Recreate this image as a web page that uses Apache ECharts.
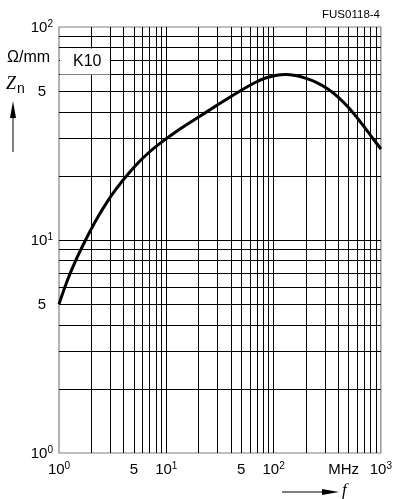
<!DOCTYPE html>
<html><head><meta charset="utf-8">
<script src="https://cdn.jsdelivr.net/npm/echarts@6/dist/echarts.min.js"></script>
<style>html,body{margin:0;padding:0;background:#fff}#c{width:395px;height:499px}</style>
</head><body><div id="c"></div>
<script>
// Curve K10: impedance per length (Ω/mm) vs frequency (MHz)
const freqMHz   = [1, 1.186, 1.406, 1.633, 1.937, 2.346, 2.843, 3.372, 4.084, 5.389, 6.96, 8.614, 11.86, 14.68, 20.21, 30.95, 49.48, 68.13, 84.33, 106.6, 129.2, 159.8, 197.8, 250.1, 323.0, 399.6, 494.8, 652.9, 807.9, 1000];
const impedance = [5.0, 6.38, 7.85, 9.22, 10.94, 13.03, 15.23, 17.22, 19.51, 22.85, 25.89, 28.28, 31.79, 34.18, 37.92, 43.46, 50.33, 55.04, 57.63, 59.37, 59.79, 59.14, 57.50, 54.95, 51.05, 46.88, 42.06, 35.54, 30.85, 26.74];

// tick labels
const xTickValues = [1, 5, 10, 50, 100, 450, 1000];
const xTickLabels = ['10^0', '5', '10^1', '5', '10^2', 'MHz', '10^3'];
const yTickValues = [1, 5, 10, 50, 100];
const yTickLabels = ['10^0', '5', '10^1', '5', '10^2'];

// log grid lines
const xGridValues = [2,3,4,5,6,7,8,9,10,20,30,40,50,60,70,80,90,100,200,300,400,500,600,700,800,900];
const yGridValues = [2,3,4,5,6,7,8,9,10,20,30,40,50,60,70,80,90];

const FONT = 'Liberation Sans, Arial, sans-serif';
function findLabel(vals, labs, v) {
  for (let i = 0; i < vals.length; i++) if (Math.abs(vals[i] - v) / vals[i] < 1e-6) return labs[i];
  return '';
}
function toRich(txt, plainStyle) {
  const p = txt.split('^');
  return p.length > 1 ? '{b|' + p[0] + '}{s|' + p[1] + '}' : '{' + plainStyle + '|' + txt + '}';
}
const rich = {
  b: { fontSize: 15, fontFamily: FONT, color: '#000', lineHeight: 16, verticalAlign: 'bottom' },
  s: { fontSize: 10, fontFamily: FONT, color: '#000', lineHeight: 16, verticalAlign: 'top' },
  p: { fontSize: 15, fontFamily: FONT, color: '#000', lineHeight: 16, verticalAlign: 'bottom', padding: [0, 7, 0, 0] }
};

const chart = echarts.init(document.getElementById('c'), null, { renderer: 'canvas' });
const gridLineData = xGridValues.map(v => ({ xAxis: v })).concat(yGridValues.map(v => ({ yAxis: v })));

chart.setOption({
  animation: false,
  backgroundColor: '#fff',
  grid: { left: 59, right: 12, top: 27, bottom: 46, show: true, borderColor: '#808080', borderWidth: 1.2, backgroundColor: 'transparent' },
  xAxis: {
    type: 'log', logBase: 10, min: 1, max: 1000,
    axisLine: { show: false }, axisTick: { show: false }, splitLine: { show: false }, minorSplitLine: { show: false },
    axisLabel: {
      customValues: xTickValues, margin: 8, hideOverlap: false,
      formatter: v => toRich(findLabel(xTickValues, xTickLabels, v), 'b'),
      rich: rich
    }
  },
  yAxis: {
    type: 'log', logBase: 10, min: 1, max: 100,
    axisLine: { show: false }, axisTick: { show: false }, splitLine: { show: false },
    axisLabel: {
      customValues: yTickValues, margin: 6, hideOverlap: false,
      formatter: v => toRich(findLabel(yTickValues, yTickLabels, v), 'p'),
      rich: rich
    }
  },
  series: [
    {
      type: 'line', data: [], z: 1, silent: true,
      markLine: {
        silent: true, symbol: ['none', 'none'], label: { show: false },
        lineStyle: { color: '#000', width: 1, type: 'solid' },
        emphasis: { disabled: true },
        data: gridLineData
      }
    },
    {
      type: 'line', z: 5, silent: true,
      data: freqMHz.map((f, i) => [f, impedance[i]]),
      showSymbol: false, smooth: 0.3,
      lineStyle: { color: '#000', width: 3 }
    }
  ],
  graphic: [
    { type: 'rect', z: 100, shape: { x: 60, y: 48.5, width: 50, height: 26 }, style: { fill: '#fff' } },
    { type: 'text', z: 101, x: 73, y: 62, style: { text: 'K10', font: '16px ' + FONT, fill: '#000', textVerticalAlign: 'middle' } },
    { type: 'text', z: 101, x: 380, y: 15, style: { text: 'FUS0118-4', font: '11.5px ' + FONT, fill: '#000', textAlign: 'right', textVerticalAlign: 'middle' } },
    { type: 'text', z: 101, x: 7, y: 58, style: { text: 'Ω/mm', font: '16px ' + FONT, fill: '#000', textVerticalAlign: 'middle' } },
    { type: 'text', z: 101, x: 6, y: 84, style: { text: 'Z', font: 'italic 18px Liberation Serif, serif', fill: '#000', textVerticalAlign: 'middle' } },
    { type: 'text', z: 101, x: 17, y: 89, style: { text: 'n', font: '14px ' + FONT, fill: '#000', textVerticalAlign: 'middle' } },
    { type: 'line', z: 101, shape: { x1: 13, y1: 152, x2: 13, y2: 112 }, style: { stroke: '#000', lineWidth: 1 } },
    { type: 'polygon', z: 101, shape: { points: [[13, 101], [10, 118], [16, 118]] }, style: { fill: '#000' } },
    { type: 'line', z: 101, shape: { x1: 282, y1: 492, x2: 328, y2: 492 }, style: { stroke: '#000', lineWidth: 1 } },
    { type: 'polygon', z: 101, shape: { points: [[339, 492], [322, 489], [322, 495]] }, style: { fill: '#000' } },
    { type: 'text', z: 101, x: 342, y: 491, style: { text: 'f', font: 'italic 17px Liberation Serif, serif', fill: '#000', textVerticalAlign: 'middle' } }
  ]
});
</script>
</body></html>
